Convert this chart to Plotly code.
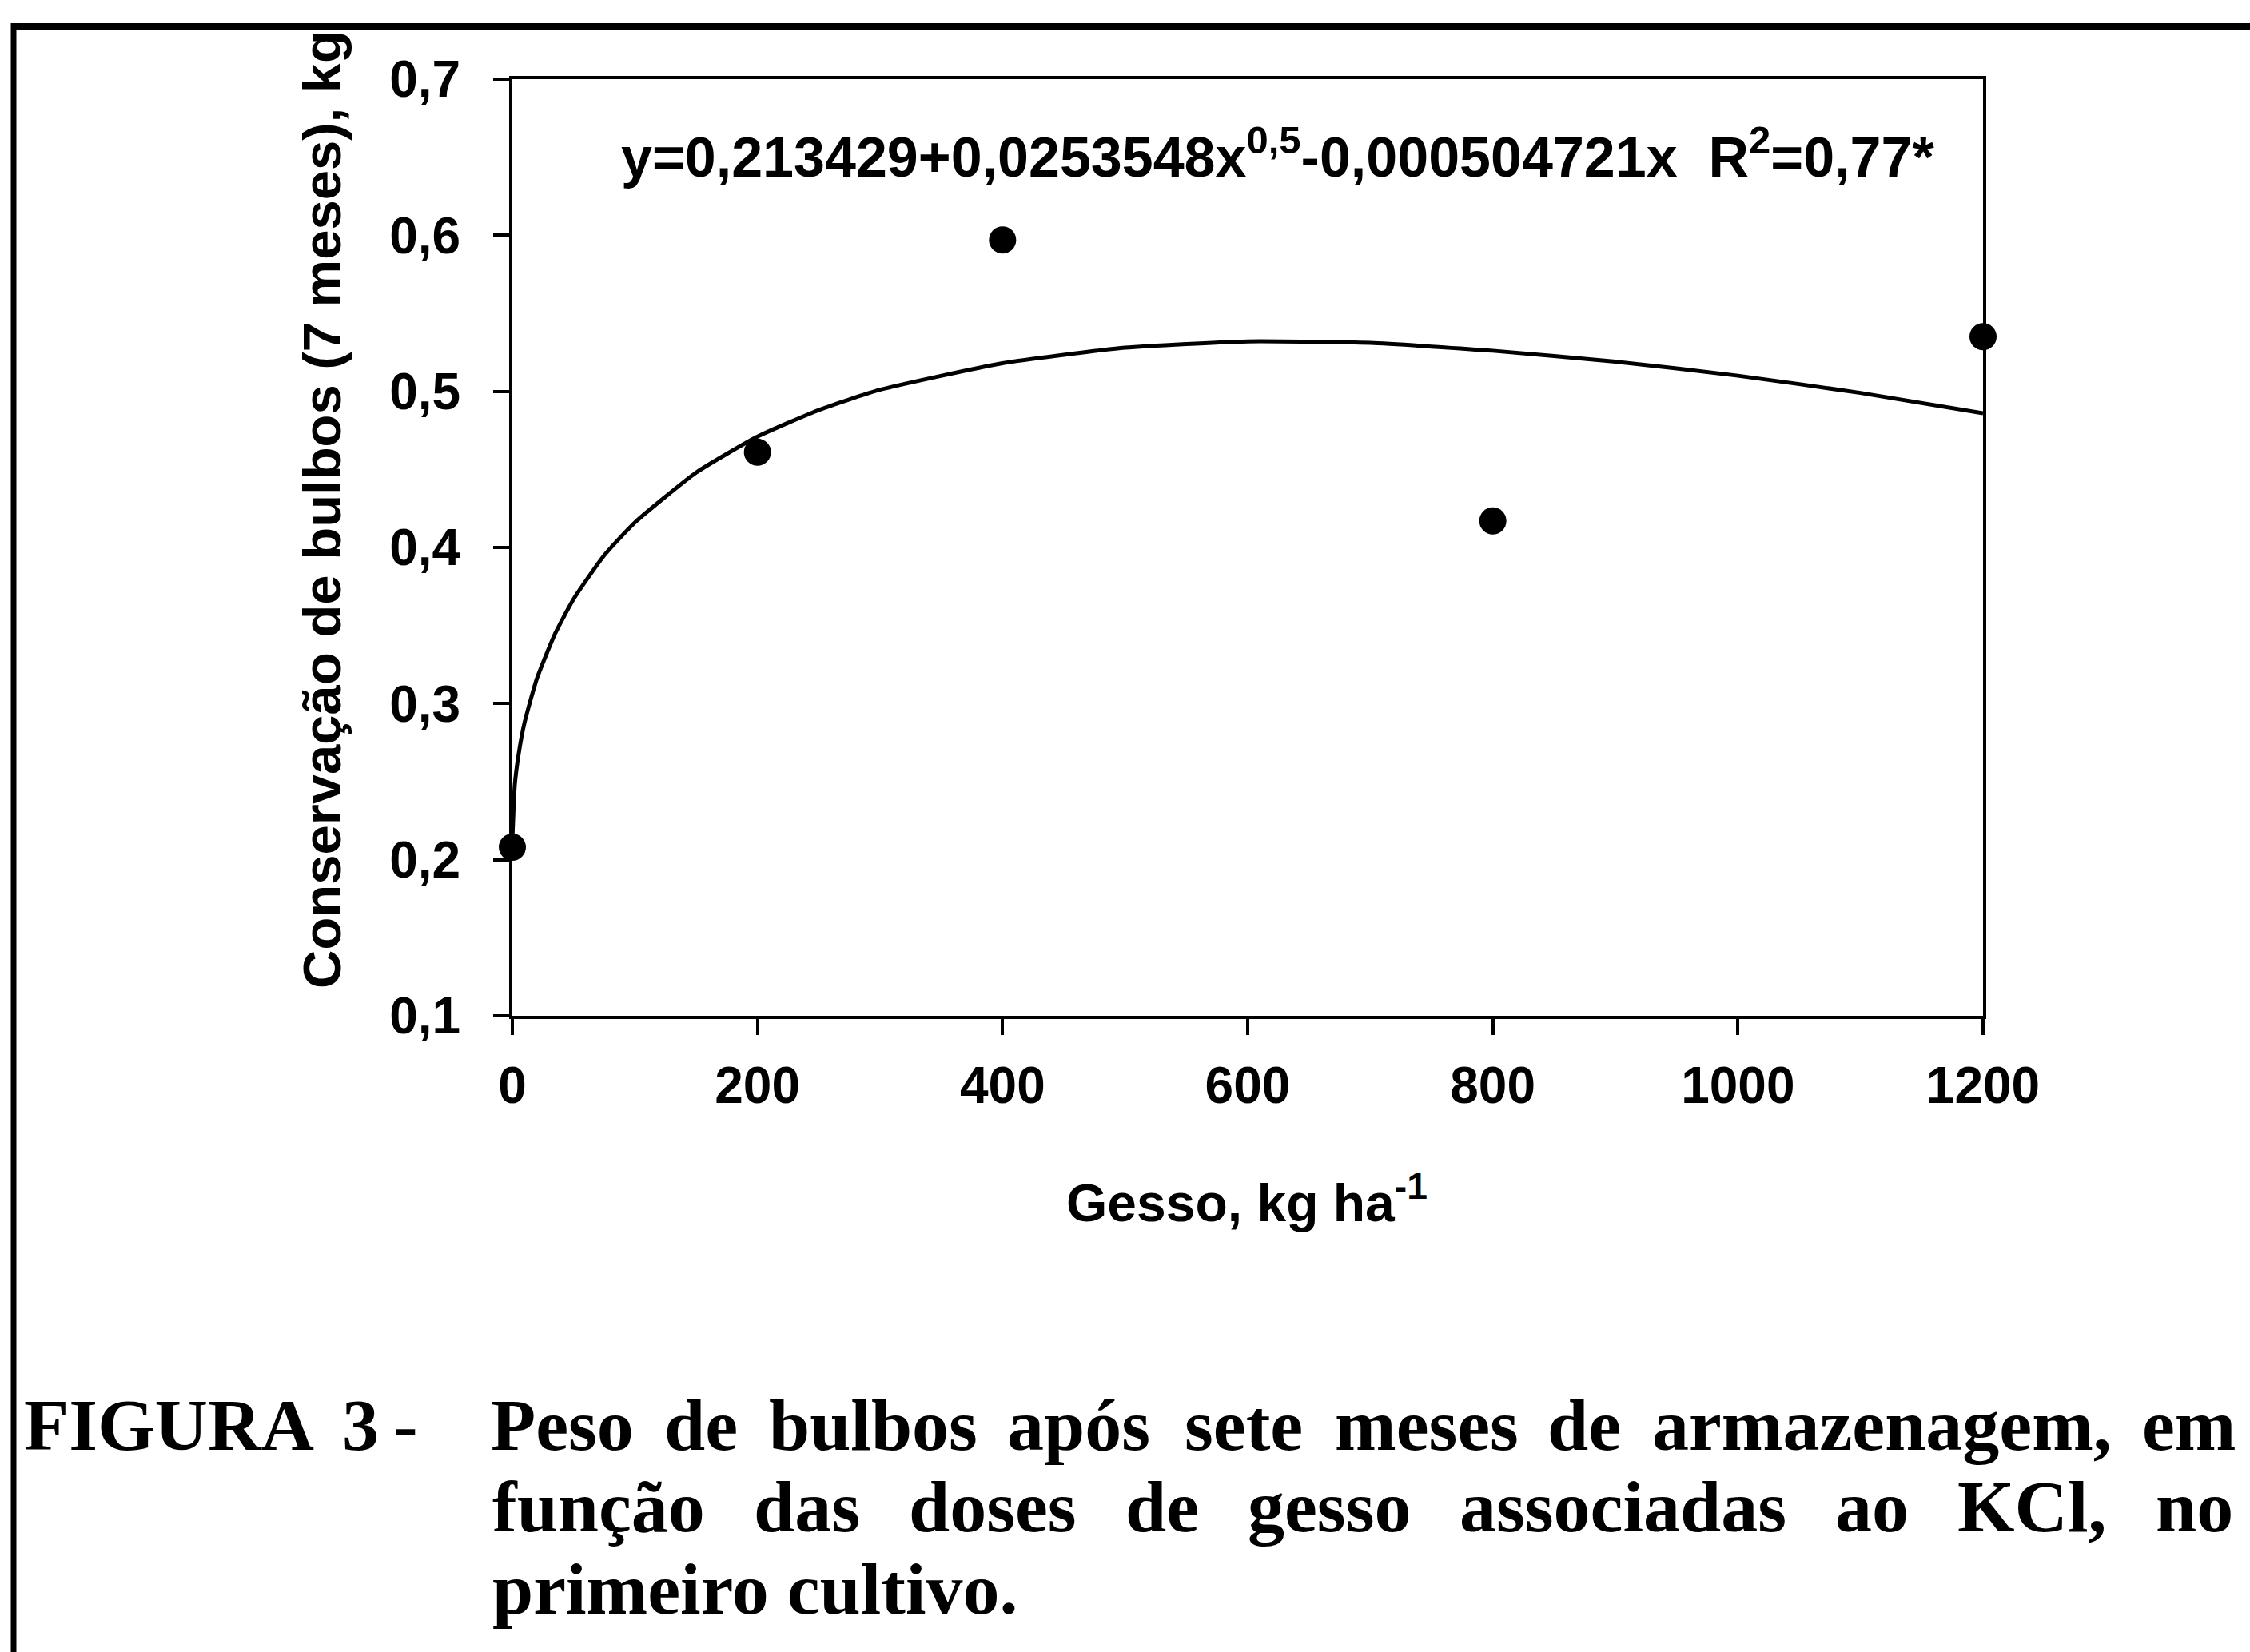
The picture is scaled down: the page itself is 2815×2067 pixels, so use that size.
import plotly.graph_objects as go

# ---------------- data ----------------
dose_obs = [0, 200, 400, 800, 1200]
peso_obs = [0.208, 0.461, 0.597, 0.417, 0.535]

curve_x = [0, 2, 5, 10, 20, 35, 50, 75, 100, 150, 200, 250, 300, 400, 500,
           600, 700, 800, 900, 1000, 1100, 1200]
curve_y = [0.213, 0.248, 0.267, 0.288, 0.316, 0.345, 0.367, 0.395, 0.416,
           0.448, 0.471, 0.488, 0.501, 0.518, 0.528, 0.532, 0.531, 0.526,
           0.519, 0.510, 0.499, 0.486]

x_ticks = [0, 200, 400, 600, 800, 1000, 1200]
x_ticklabels = ["0", "200", "400", "600", "800", "1000", "1200"]
y_ticks = [0.1, 0.2, 0.3, 0.4, 0.5, 0.6, 0.7]
y_ticklabels = ["0,1", "0,2", "0,3", "0,4", "0,5", "0,6", "0,7"]

equation = ("y=0,213429+0,0253548x<sup>0,5</sup>-0,000504721x\u00a0\u00a0"
            "R<sup>2</sup>=0,77*")
x_title = "Gesso, kg ha<sup>-1</sup>"
y_title = "Conservação de bulbos (7 meses), kg"

caption_line1 = ["FIGURA", "3", "-", "Peso", "de", "bulbos", "após", "sete",
                 "meses", "de", "armazenagem,", "em"]
caption_line2 = ["função", "das", "doses", "de", "gesso", "associadas", "ao",
                 "KCl,", "no"]
caption_line3 = ["primeiro cultivo."]

# ---------------- layout (pixels) ----------------
W, H = 2815, 2067
PL, PR, PT, PB = 641, 2481, 99, 1271
pw, ph = PR - PL, PB - PT

def px(x):
    return (x - PL) / pw

def py(y):
    return (PB - y) / ph

line1_left = [28, 426, 490, 612, 829, 960, 1258, 1480, 1668, 1934, 2065, 2678]
line2_left = [614, 941, 1135, 1406, 1559, 1824, 2294, 2447, 2695]
line3_left = [614]
line_cy = [1783, 1885, 1988]

SANS = "Liberation Sans, Arial, sans-serif"
SERIF = "Liberation Serif, Times New Roman, serif"

fig = go.Figure()

fig.add_trace(go.Scatter(
    x=curve_x, y=curve_y, mode="lines",
    line=dict(color="black", width=5, shape="spline", smoothing=0.5),
    cliponaxis=False, showlegend=False, hoverinfo="skip"))

fig.add_trace(go.Scatter(
    x=dose_obs, y=peso_obs, mode="markers",
    marker=dict(color="black", size=34, symbol="circle"),
    cliponaxis=False, showlegend=False))

axis_common = dict(
    showline=True, linecolor="black", linewidth=4, mirror=True,
    ticks="outside", ticklen=20, tickwidth=4, tickcolor="black",
    showgrid=False, zeroline=False,
    tickfont=dict(family=SANS, size=64, color="black", weight="bold"),
)

fig.update_xaxes(range=[0, 1200], tickvals=x_ticks, ticktext=x_ticklabels,
                 ticklabelstandoff=8, **axis_common)
fig.update_yaxes(range=[0.1, 0.7], tickvals=y_ticks, ticktext=y_ticklabels,
                 ticklabelstandoff=28, **axis_common)

ann = []
# equation
ann.append(dict(x=px(1598), y=py(192), xref="paper", yref="paper",
                text=equation, showarrow=False, xanchor="center",
                yanchor="middle",
                font=dict(family=SANS, size=70, color="black", weight="bold")))
# axis titles
ann.append(dict(x=px(1560), y=py(1500), xref="paper", yref="paper",
                text=x_title, showarrow=False, xanchor="center",
                yanchor="middle",
                font=dict(family=SANS, size=66, color="black", weight="bold")))
ann.append(dict(x=px(402), y=py(638), xref="paper", yref="paper",
                text=y_title, showarrow=False, textangle=-90,
                xanchor="center", yanchor="middle",
                font=dict(family=SANS, size=67, color="black", weight="bold")))
# caption (justified word by word)
capfont = dict(family=SERIF, size=92, color="black", weight="bold")
for words, lefts, cy in zip([caption_line1, caption_line2, caption_line3],
                            [line1_left, line2_left, line3_left], line_cy):
    for w, lx in zip(words, lefts):
        ann.append(dict(x=px(lx), y=py(cy), xref="paper", yref="paper",
                        text=w, showarrow=False, xanchor="left",
                        yanchor="middle", font=capfont))

shapes = [
    # outer frame: top and left edges
    dict(type="line", xref="paper", yref="paper",
         x0=px(14), x1=px(W + 10), y0=py(33), y1=py(33),
         line=dict(color="black", width=8)),
    dict(type="line", xref="paper", yref="paper",
         x0=px(17), x1=px(17), y0=py(29), y1=py(H + 10),
         line=dict(color="black", width=7)),
]

fig.update_layout(
    width=W, height=H,
    margin=dict(l=PL, r=W - PR, t=PT, b=H - PB, pad=0),
    paper_bgcolor="white", plot_bgcolor="white",
    annotations=ann, shapes=shapes, showlegend=False,
)

fig.write_html("out.html")
